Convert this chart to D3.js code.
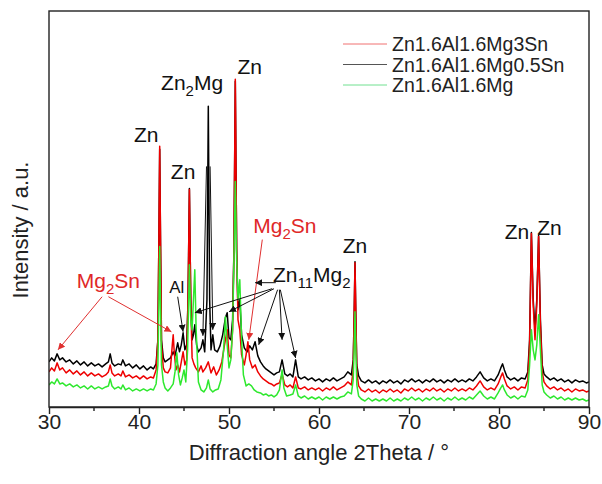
<!DOCTYPE html>
<html>
<head>
<meta charset="utf-8">
<script src="https://cdn.jsdelivr.net/npm/d3@7"></script>
<style>
body { margin: 0; background: #fff; }
text { font-family: "Liberation Sans", Arial, sans-serif; }
</style>
</head>
<body>
<script>
// legend names, same order as the draw order below
const seriesNames = ["Zn1.6Al1.6Mg3Sn", "Zn1.6Al1.6Mg0.5Sn", "Zn1.6Al1.6Mg"];
const xTicks = [30, 40, 50, 60, 70, 80, 90];
const xMinorTicks = [35, 45, 55, 65, 75, 85];

// [2theta, intensity a.u.]
const mg05sn = [[30.0,45],[30.3,49],[30.6,46],[30.9,53],[31.2,47],[31.5,49],[31.9,45],[32.3,47],[32.7,43],[33.1,46],[33.5,42],[33.9,45],[34.3,41],[34.7,44],[35.1,41],[35.5,43],[35.9,40],[36.3,43],[36.6,45],[36.8,53],[37.0,44],[37.3,41],[37.7,43],[38.0,42],[38.2,47],[38.5,41],[38.9,43],[39.3,39],[39.7,42],[40.1,38],[40.5,41],[40.9,37],[41.3,40],[41.6,38],[41.9,43],[42.1,67],[42.2,157],[42.3,257],[42.4,157],[42.5,67],[42.7,49],[42.9,45],[43.2,47],[43.5,49],[43.8,55],[44.0,51],[44.3,64],[44.5,55],[44.7,62],[44.9,74],[45.1,57],[45.3,62],[45.45,107],[45.6,218],[45.75,107],[45.9,67],[46.05,72],[46.2,82],[46.4,62],[46.6,55],[46.9,59],[47.1,67],[47.3,55],[47.55,107],[47.7,300],[47.85,107],[48.0,57],[48.2,72],[48.4,57],[48.7,55],[49.0,61],[49.3,72],[49.6,89],[49.8,94],[50.0,69],[50.2,67],[50.4,87],[50.55,157],[50.7,325],[50.85,157],[51.0,97],[51.2,107],[51.4,72],[51.7,59],[52.0,55],[52.3,61],[52.6,57],[52.9,65],[53.2,51],[53.5,45],[53.8,41],[54.1,38],[54.4,36],[54.7,34],[55.0,32],[55.3,34],[55.6,35],[55.9,47],[56.2,33],[56.5,31],[56.8,33],[57.1,30],[57.4,47],[57.7,30],[58.0,28],[58.4,30],[58.8,27],[59.2,29],[59.6,26],[60.0,28],[60.4,25],[60.8,28],[61.2,26],[61.6,29],[62.0,26],[62.4,28],[62.8,30],[63.2,35],[63.6,32],[63.8,47],[63.9,87],[64.0,145],[64.1,87],[64.2,42],[64.4,31],[64.7,26],[65.1,24],[65.5,27],[65.9,24],[66.3,26],[66.7,23],[67.1,26],[67.5,24],[67.9,27],[68.3,24],[68.7,26],[69.1,23],[69.5,27],[69.9,25],[70.3,28],[70.7,25],[71.1,27],[71.5,24],[71.9,27],[72.3,25],[72.7,28],[73.1,25],[73.5,27],[73.9,24],[74.3,27],[74.7,25],[75.1,28],[75.5,25],[75.9,27],[76.3,25],[76.7,28],[77.1,26],[77.5,30],[77.9,35],[78.3,29],[78.7,26],[79.1,28],[79.5,26],[79.9,32],[80.2,39],[80.4,43],[80.6,37],[80.9,30],[81.3,27],[81.7,29],[82.1,26],[82.5,29],[82.9,28],[83.2,35],[83.4,67],[83.6,174],[83.8,107],[84.0,77],[84.2,107],[84.4,171],[84.6,87],[84.8,42],[85.0,33],[85.3,30],[85.7,27],[86.1,29],[86.5,26],[86.9,28],[87.3,25],[87.7,27],[88.1,24],[88.5,27],[88.9,25],[89.3,26],[89.7,24],[90.0,25]];

const mg3sn = [[30.0,35],[30.3,39],[30.6,36],[30.9,44],[31.2,37],[31.5,39],[31.9,34],[32.3,37],[32.7,33],[33.1,36],[33.5,32],[33.9,35],[34.3,31],[34.7,34],[35.1,31],[35.5,33],[35.9,30],[36.3,32],[36.6,35],[36.8,42],[37.0,34],[37.3,31],[37.7,33],[38.0,31],[38.2,36],[38.5,30],[38.9,32],[39.3,29],[39.7,31],[40.1,28],[40.5,31],[40.9,28],[41.3,30],[41.6,29],[41.9,37],[42.1,67],[42.2,157],[42.3,260],[42.4,157],[42.5,62],[42.7,39],[42.9,35],[43.2,34],[43.5,39],[43.7,62],[43.8,72],[43.9,57],[44.1,37],[44.3,42],[44.5,35],[44.7,45],[44.9,55],[45.1,42],[45.3,47],[45.45,107],[45.6,217],[45.75,107],[45.9,49],[46.1,43],[46.3,39],[46.6,35],[46.9,41],[47.1,35],[47.4,39],[47.7,45],[48.0,34],[48.3,40],[48.6,32],[48.9,37],[49.2,45],[49.5,62],[49.8,77],[50.0,52],[50.2,49],[50.4,77],[50.55,157],[50.7,327],[50.85,157],[51.0,87],[51.2,77],[51.4,52],[51.7,42],[51.9,52],[52.1,65],[52.3,47],[52.6,39],[52.9,42],[53.2,35],[53.5,31],[53.8,28],[54.1,26],[54.4,24],[54.7,23],[55.0,21],[55.3,23],[55.6,24],[55.9,33],[56.2,22],[56.5,20],[56.8,22],[57.1,19],[57.4,30],[57.7,19],[58.0,18],[58.4,20],[58.8,17],[59.2,19],[59.6,17],[60.0,19],[60.4,16],[60.8,19],[61.2,17],[61.6,20],[62.0,17],[62.4,19],[62.8,21],[63.2,25],[63.6,22],[63.8,37],[63.9,87],[64.0,144],[64.1,87],[64.2,35],[64.4,21],[64.7,17],[65.1,15],[65.5,18],[65.9,15],[66.3,17],[66.7,14],[67.1,17],[67.5,15],[67.9,18],[68.3,15],[68.7,17],[69.1,14],[69.5,18],[69.9,16],[70.3,19],[70.7,16],[71.1,18],[71.5,15],[71.9,18],[72.3,16],[72.7,19],[73.1,16],[73.5,18],[73.9,15],[74.3,18],[74.7,16],[75.1,19],[75.5,16],[75.9,18],[76.3,16],[76.7,19],[77.1,17],[77.5,21],[77.9,26],[78.3,20],[78.7,17],[79.1,19],[79.5,17],[79.9,23],[80.2,30],[80.4,34],[80.6,28],[80.9,21],[81.3,18],[81.7,20],[82.1,17],[82.5,20],[82.9,19],[83.2,27],[83.4,62],[83.6,173],[83.8,102],[84.0,67],[84.2,102],[84.4,170],[84.6,82],[84.8,35],[85.0,25],[85.3,21],[85.7,18],[86.1,20],[86.5,17],[86.9,19],[87.3,16],[87.7,18],[88.1,15],[88.5,18],[88.9,16],[89.3,17],[89.7,15],[90.0,16]];

const mgOnly = [[30.0,22],[30.3,25],[30.6,23],[30.9,28],[31.2,23],[31.5,24],[31.9,21],[32.3,23],[32.7,20],[33.1,22],[33.5,19],[33.9,21],[34.3,18],[34.7,21],[35.1,18],[35.5,20],[35.9,18],[36.3,20],[36.6,21],[36.8,28],[37.0,21],[37.3,18],[37.7,20],[38.0,18],[38.2,22],[38.5,17],[38.9,19],[39.3,16],[39.7,18],[40.1,16],[40.5,18],[40.9,16],[41.3,18],[41.6,17],[41.9,23],[42.1,42],[42.2,97],[42.3,160],[42.4,97],[42.5,42],[42.7,25],[42.9,19],[43.2,16],[43.5,19],[43.8,23],[44.0,35],[44.2,54],[44.4,32],[44.6,22],[44.8,29],[45.0,37],[45.2,25],[45.4,57],[45.6,142],[45.75,87],[45.9,77],[46.05,107],[46.2,137],[46.35,77],[46.6,25],[46.9,17],[47.2,15],[47.5,19],[47.7,27],[47.9,18],[48.2,15],[48.5,17],[48.8,18],[49.1,27],[49.4,57],[49.6,90],[49.8,62],[50.0,39],[50.2,47],[50.4,77],[50.55,147],[50.7,225],[50.85,147],[51.0,107],[51.2,127],[51.4,67],[51.6,32],[51.9,21],[52.2,23],[52.5,21],[52.8,17],[53.1,15],[53.5,14],[53.8,12],[54.1,13],[54.4,11],[54.7,12],[55.0,10],[55.3,12],[55.6,17],[55.9,37],[56.1,19],[56.4,11],[56.8,12],[57.1,13],[57.4,22],[57.7,11],[58.0,9],[58.4,11],[58.8,8],[59.2,10],[59.6,8],[60.0,10],[60.4,7],[60.8,10],[61.2,8],[61.6,10],[62.0,8],[62.4,10],[62.8,11],[63.2,15],[63.6,13],[63.8,27],[63.9,57],[64.0,95],[64.1,57],[64.2,22],[64.4,11],[64.7,8],[65.1,6],[65.5,9],[65.9,6],[66.3,8],[66.7,6],[67.1,8],[67.5,6],[67.9,9],[68.3,6],[68.7,8],[69.1,6],[69.5,9],[69.9,7],[70.3,10],[70.7,7],[71.1,9],[71.5,6],[71.9,9],[72.3,7],[72.7,10],[73.1,7],[73.5,9],[73.9,6],[74.3,9],[74.7,7],[75.1,10],[75.5,7],[75.9,9],[76.3,7],[76.7,10],[77.1,8],[77.5,12],[77.9,16],[78.3,11],[78.7,8],[79.1,10],[79.5,8],[79.9,14],[80.2,19],[80.4,22],[80.6,17],[80.9,12],[81.3,9],[81.7,11],[82.1,8],[82.5,11],[82.9,10],[83.2,17],[83.4,42],[83.6,77],[83.8,57],[84.0,47],[84.2,62],[84.4,92],[84.6,57],[84.8,22],[85.0,15],[85.3,12],[85.7,9],[86.1,11],[86.5,8],[86.9,10],[87.3,7],[87.7,9],[88.1,7],[88.5,9],[88.9,7],[89.3,8],[89.7,6],[90.0,7]];

// phase labels: text pieces ([text, subscript?]), anchor in data units
const phaseLabels = [
    { parts: [["Zn"]], x: 40.8, y: 264, red: false },
    { parts: [["Zn"]], x: 44.9, y: 227, red: false },
    { parts: [["Zn"], ["2", 1], ["Mg"]], x: 45.9, y: 316, red: false },
    { parts: [["Zn"]], x: 52.3, y: 332, red: false },
    { parts: [["Mg"], ["2", 1], ["Sn"]], x: 56.2, y: 174, red: true },
    { parts: [["Zn"], ["11", 1], ["Mg"], ["2", 1]], x: 59.2, y: 125, red: false },
    { parts: [["Mg"], ["2", 1], ["Sn"]], x: 36.6, y: 119, red: true },
    { parts: [["Al"]], x: 44.2, y: 114, red: false, small: true },
    { parts: [["Zn"]], x: 64.0, y: 154, red: false },
    { parts: [["Zn"]], x: 82.0, y: 168, red: false },
    { parts: [["Zn"]], x: 85.6, y: 172, red: false }
];

// arrows [x1, y1, x2, y2] in data units
const redArrows = [
    [35.9, 110, 31.0, 57],
    [36.6, 110, 43.6, 75],
    [53.7, 167, 52.2, 67]
];
const blackArrows = [
    [44.3, 110, 44.9, 75],
    [47.5, 240, 47.1, 71],
    [47.9, 240, 48.2, 77],
    [55.2, 124, 52.9, 124],
    [54.8, 118, 46.2, 94],
    [55.0, 118, 50.0, 95],
    [55.4, 117, 53.3, 62],
    [55.6, 117, 55.9, 67],
    [55.7, 117, 57.4, 49]
];

const width = 602;
const height = 484;
const plotL = 49, plotR = 589, plotT = 11, plotB = 407;

const xScale = d3.scaleLinear().domain([30, 90]).range([plotL, plotR]);
const yScale = d3.scaleLinear().domain([0, 395]).range([plotB, plotT]);

const svg = d3.select("body").append("svg")
    .attr("width", width)
    .attr("height", height)
    .attr("viewBox", [0, 0, width, height]);

const defs = svg.append("defs");
defs.append("clipPath").attr("id", "plot")
    .append("rect").attr("x", plotL).attr("y", plotT).attr("width", plotR - plotL).attr("height", plotB - plotT);
[["headBlack", "#111"], ["headRed", "#e03030"]].forEach(([id, c]) => {
    defs.append("marker").attr("id", id)
        .attr("viewBox", "0 0 10 10").attr("refX", 10).attr("refY", 5)
        .attr("markerWidth", 7).attr("markerHeight", 7)
        .attr("markerUnits", "userSpaceOnUse")
        .attr("orient", "auto")
        .append("path").attr("d", "M0,0 L10,5 L0,10 Z").attr("fill", c);
});

const line = d3.line().x(d => xScale(d[0])).y(d => yScale(d[1]));

// draw order: black, red, green on top
const traces = [
    { data: mg05sn, color: "#000000" },
    { data: mg3sn, color: "#ee0000" },
    { data: mgOnly, color: "#2ee82e" }
];
svg.append("g").attr("clip-path", "url(#plot)")
    .selectAll("path")
    .data(traces)
    .enter()
    .append("path")
    .attr("d", d => line(d.data))
    .attr("fill", "none")
    .attr("stroke", d => d.color)
    .attr("stroke-width", 1.5)
    .attr("stroke-linejoin", "round");

// frame
svg.append("rect")
    .attr("x", plotL).attr("y", plotT)
    .attr("width", plotR - plotL).attr("height", plotB - plotT)
    .attr("fill", "none").attr("stroke", "#222").attr("stroke-width", 1.4);

// bottom axis
const ax = svg.append("g")
    .attr("transform", `translate(0,${plotB})`)
    .call(d3.axisBottom(xScale).tickValues(xTicks).tickSize(7).tickPadding(0).tickSizeOuter(0));
ax.select(".domain").attr("stroke", "#222").attr("stroke-width", 1.4);
ax.selectAll(".tick line").attr("stroke", "#222").attr("stroke-width", 1.4);
ax.selectAll(".tick text").attr("font-size", 21).attr("fill", "#222")
    .style("font-family", "'Liberation Sans', Arial, sans-serif");
svg.append("g")
    .attr("transform", `translate(0,${plotB})`)
    .selectAll("line")
    .data(xMinorTicks)
    .enter()
    .append("line")
    .attr("x1", d => xScale(d)).attr("x2", d => xScale(d))
    .attr("y1", 0).attr("y2", 4)
    .attr("stroke", "#222").attr("stroke-width", 1.4);

svg.append("text")
    .attr("x", (plotL + plotR) / 2).attr("y", 460)
    .attr("text-anchor", "middle")
    .attr("font-size", 22).attr("fill", "#222")
    .text("Diffraction angle 2Theta / \u00b0");

svg.append("text")
    .attr("transform", "translate(28,230) rotate(-90)")
    .attr("text-anchor", "middle")
    .attr("font-size", 22).attr("fill", "#222")
    .text("Intensity / a.u.");

// arrows
svg.append("g").selectAll("line")
    .data(redArrows)
    .enter()
    .append("line")
    .attr("x1", d => xScale(d[0])).attr("y1", d => yScale(d[1]))
    .attr("x2", d => xScale(d[2])).attr("y2", d => yScale(d[3]))
    .attr("stroke", "#e03030").attr("stroke-width", 1)
    .attr("marker-end", "url(#headRed)");
svg.append("g").selectAll("line")
    .data(blackArrows)
    .enter()
    .append("line")
    .attr("x1", d => xScale(d[0])).attr("y1", d => yScale(d[1]))
    .attr("x2", d => xScale(d[2])).attr("y2", d => yScale(d[3]))
    .attr("stroke", "#111").attr("stroke-width", 1)
    .attr("marker-end", "url(#headBlack)");

// phase labels with subscripts
phaseLabels.forEach(lab => {
    const t = svg.append("text")
        .attr("x", xScale(lab.x)).attr("y", yScale(lab.y))
        .attr("text-anchor", "middle")
        .attr("font-size", lab.small ? 17 : 21)
        .attr("fill", lab.red ? "#e02828" : "#111");
    let down = false;
    lab.parts.forEach(p => {
        const s = t.append("tspan").text(p[0]);
        if (p[1] && !down) { s.attr("font-size", 15).attr("dy", 6); down = true; }
        else if (!p[1] && down) { s.attr("dy", -6); down = false; }
    });
});

// legend
const legendColors = ["#f07070", "#555555", "#70e090"];
const lg = svg.append("g").selectAll("g")
    .data(seriesNames)
    .enter()
    .append("g")
    .attr("transform", (d, i) => `translate(343,${44 + i * 20.5})`);
lg.append("line").attr("x1", 0).attr("x2", 44).attr("y1", 0).attr("y2", 0)
    .attr("stroke", (d, i) => legendColors[i]).attr("stroke-width", 1);
lg.append("text").attr("x", 49).attr("y", 7)
    .attr("font-size", 19.5).attr("fill", "#222")
    .text(d => d);
</script>
</body>
</html>
